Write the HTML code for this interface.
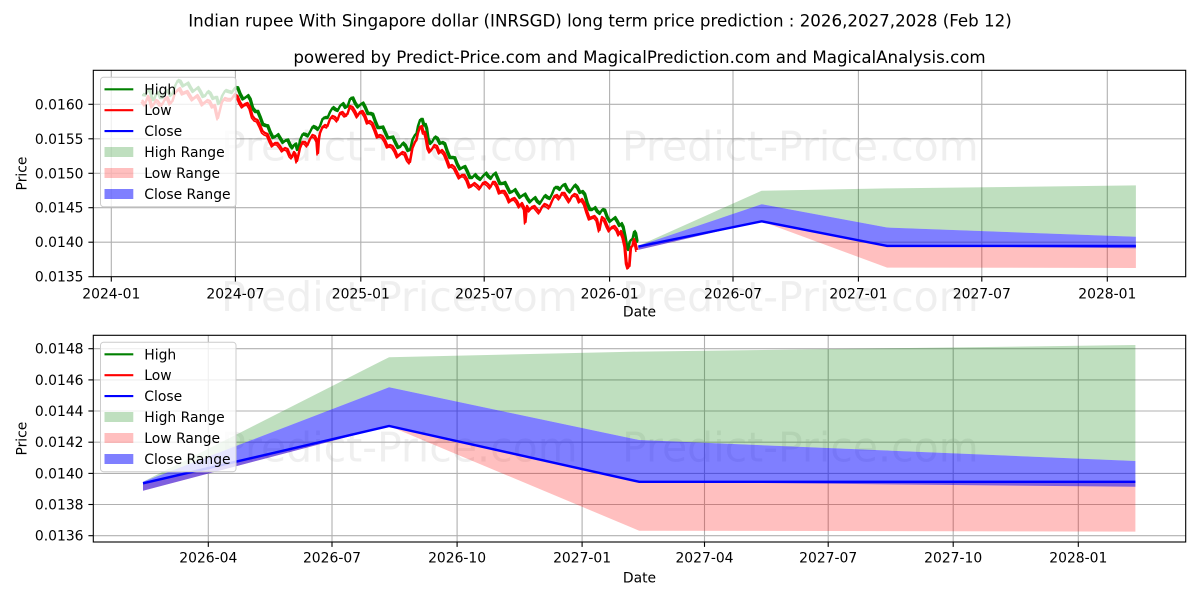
<!DOCTYPE html>
<html><head><meta charset="utf-8"><style>
html,body{margin:0;padding:0;background:#fff;}
svg{display:block;font-family:"DejaVu Sans","Liberation Sans",sans-serif;}
</style></head><body>
<svg width="1200" height="600" viewBox="0 0 1200 600" xmlns="http://www.w3.org/2000/svg">
<defs>
<polyline id="hp" fill="none" stroke-linejoin="round" points="142,95 145,95.5 148,90 150,92 152,100 154,100 156,94 158,93 160,98 162.5,98 165,92 167.5,91 170,96 172.5,94 175,86 177.5,81 180,82 182.5,86.5 185,85 187.5,83.5 190,88 192.5,92 195,90 197.5,88 200,92 202.5,97 205,96 207.5,92 210,94 212.5,99 215,98 216.5,98 218,104 220,103 222,96 225,91 228,92 231.5,93 235,88 237.5,88.5 240,95 242.5,99.5 245,98 247.5,96 250,100 252.5,109 255,112 257.5,112 260,118 262.5,125 265,126 267.5,126.5 270,133 272.5,138 275,137 277.5,135 280,139 282.5,143 285,141 287.5,140.5 290,146 292,148.5 294,145 295.5,144.5 297,150 298.5,148 300,140 302.5,134.5 305,135 307.5,136.5 310,132 312.5,127 315,128 317.5,130 320,126 322.5,119 325,118 327.5,118 330,112 332.5,108 335,110 337.5,111 340,106 342.5,104 345,108 347.5,106.5 350,99 352.5,98.5 355,104 357.5,107.5 360,105 362.5,103.5 365,108 367.5,114 370,114 372.5,115 375,122 377.5,128 380,128 382.5,127.5 385,133 387.5,138.5 390,138 392.5,137.5 395,143 397.5,148 400,147 402.5,143.5 405,146 407.5,151 410,150 412.5,139.5 415,135 416.5,133.5 418,126 420,120 422,120 423.5,125.5 425,125 426.5,129.5 428,140 430,144 432,142 434.5,137.5 437,139 439.5,144 442,143 444.5,144.5 447,152 449.5,158 452,158 454.5,158.5 457,165 459.5,169.5 462,168 464.5,167 467,172 469.5,178 472,178 474.5,175 477,178 480,180 483,176 485.5,173.5 488,177 490.5,179 493,175 495,173.5 497,178 499.5,184 502,184 504.5,183 507,188 509.5,193 512,192 514.5,190 517,194 519.5,198 522,196 524.5,194.5 527,199 529.5,202.5 532,200 534.5,198 537,202 539.5,204 542,200 544.5,196 547,198 549.5,199 552,194 554.5,188 557,188 559.5,190 562,186 564.5,185 567,190 569.5,192.5 572,189 574.5,185.5 577,188 579.5,193 582,192 584.5,195 587,204 589.5,210 592,210 594.5,208 597,212 599.5,214 602,210 604.5,211 607,218 609.5,222 612,220 614.5,218 617,222 619,226 621,224 623,228 625,238 626.5,247 628,250 629.5,242 631,240 632.5,239 634,232 635.5,234.5 637,243"/>
<polyline id="lp" fill="none" stroke-linejoin="round" points="142,100 145,104 148,96 150,99 152,106 154,104 156,100 158,101 160,104 162.5,104 165,99 167.5,97 170,103 172.5,101 175,93 177.5,90 180,88 182.5,93 185,92 187.5,91 190,95 192.5,99 195,97 197.5,95 200,99 202.5,104 205,102 207.5,100 210,101 212.5,106 215,105 216.5,112 218,118 220,110 222,102 225,98 228,99 231.5,99 235,94 237.5,96 240,102 242.5,106 245,104 247.5,103 250,107 252.5,116 255,119 257.5,120 260,125 262.5,131 265,133 267.5,134 270,140 272.5,145 275,143 277.5,143 280,146 282.5,150 285,148 287.5,149 290,155 292,157 294,152 295.5,154 297,161 298.5,155 300,148 302.5,142 305,142 307.5,145 310,139 312.5,135 315,136 317,140 318,153 319,139 320,133 322.5,127 325,125 327.5,126 330,119 332.5,116 335,117 337.5,120 340,113 342.5,112 345,115 347.5,114 350,106 352.5,107 355,111 357.5,116 360,112 362.5,111 365,115 367.5,122 370,121 372.5,123 375,129 377.5,136 380,135 382.5,136 385,140 387.5,146 390,145 392.5,146 395,150 397.5,156 400,154 402.5,152 405,153 407.5,159 410,162 412.5,148 415,142 416.5,140 418,133 420,127 422,126 423.5,132 425,132 426.5,138 428,147 430,151 432,149 434.5,145 437,146 439.5,152 442,150 444.5,153 447,159 449.5,166 452,165 454.5,167 457,172 459.5,177 462,175 464.5,175 467,179 469.5,186 472,185 474.5,183 477,185 480,188 483,183 485.5,182 488,184 490.5,187 493,182 495,182 497,185 499.5,192 502,191 504.5,191 507,195 509.5,201 512,199 514.5,198 517,201 519.5,206 522,203 524.5,208 525.5,222 527,206 529.5,210 532,207 534.5,206 537,209 539.5,212 542,207 544.5,204 547,205 549.5,207 552,201 554.5,196 557,195 559.5,198 562,193 564.5,193 567,197 569.5,201 572,196 574.5,194 577,195 579.5,201 582,199 584.5,203 587,211 589.5,218 592,217 594.5,216 597,219 599.5,230 602,217 604.5,219 607,225 609.5,230 612,227 614.5,226 617,229 619,234 621,231 623,236 625,245 626.5,262 628,267 629.5,266 631,247 632.5,246 634,239 635.5,243 637,250"/>
</defs>
<rect width="1200" height="600" fill="#fff"/>
<text x="600" y="26.5" font-size="16.67" text-anchor="middle">Indian rupee With Singapore dollar (INRSGD) long term price prediction : 2026,2027,2028 (Feb 12)</text>
<text x="639.5" y="63" font-size="16.67" text-anchor="middle">powered by Predict-Price.com and MagicalPrediction.com and MagicalAnalysis.com</text>

<!-- TOP AXES -->
<g stroke="#b0b0b0" stroke-width="1.1">
<line x1="93.3" x2="1185.7" y1="104.3" y2="104.3"/>
<line x1="93.3" x2="1185.7" y1="138.8" y2="138.8"/>
<line x1="93.3" x2="1185.7" y1="173.3" y2="173.3"/>
<line x1="93.3" x2="1185.7" y1="207.7" y2="207.7"/>
<line x1="93.3" x2="1185.7" y1="242.2" y2="242.2"/>
<line x1="111.3" x2="111.3" y1="70.3" y2="276.7"/>
<line x1="235.4" x2="235.4" y1="70.3" y2="276.7"/>
<line x1="360.8" x2="360.8" y1="70.3" y2="276.7"/>
<line x1="484.2" x2="484.2" y1="70.3" y2="276.7"/>
<line x1="609.6" x2="609.6" y1="70.3" y2="276.7"/>
<line x1="733.0" x2="733.0" y1="70.3" y2="276.7"/>
<line x1="858.4" x2="858.4" y1="70.3" y2="276.7"/>
<line x1="981.8" x2="981.8" y1="70.3" y2="276.7"/>
<line x1="1107.3" x2="1107.3" y1="70.3" y2="276.7"/>
</g>
<g fill="#808080" fill-opacity="0.13" font-size="41">
<text x="221" y="160.5">Predict-Price.com</text>
<text x="622" y="160.5">Predict-Price.com</text>
<text x="221" y="311">Predict-Price.com</text>
<text x="622" y="311">Predict-Price.com</text>
<text x="221" y="461.5">Predict-Price.com</text>
<text x="622" y="461.5">Predict-Price.com</text>
</g>
<polygon fill="#008000" fill-opacity="0.25" points="638.3,245.9 761.6,190.8 887.1,188.4 1135.9,185.4 1135.9,236.8 887.1,227.5 761.6,204.2 638.3,245.9"/>
<polygon fill="#ff0000" fill-opacity="0.25" points="638.3,246.6 761.6,221.3 887.1,245.9 1135.9,245.9 1135.9,268.0 887.1,267.6 761.6,221.3 638.3,249.9"/>
<polygon fill="#0000ff" fill-opacity="0.5" points="638.3,245.9 761.6,204.2 887.1,227.5 1135.9,236.8 1135.9,248.2 887.1,245.9 761.6,221.3 638.3,249.9"/>
<use href="#hp" stroke="#008000" stroke-width="2.4"/>
<use href="#hp" stroke="#008000" stroke-width="1.5" transform="translate(1,-1.5)"/>
<use href="#lp" stroke="#ff0000" stroke-width="2.4"/>
<use href="#lp" stroke="#ff0000" stroke-width="1.5" transform="translate(-1,2)"/>
<polyline fill="none" stroke="#0000ff" stroke-width="2.4" points="638.3,246.6 761.6,221.3 887.1,245.9 1135.9,245.9"/>
<rect x="93.3" y="70.3" width="1092.4" height="206.4" fill="none" stroke="#000" stroke-width="1.1"/>
<g stroke="#000" stroke-width="1.1">
<line x1="88.4" x2="93.3" y1="104.3" y2="104.3"/>
<line x1="88.4" x2="93.3" y1="138.8" y2="138.8"/>
<line x1="88.4" x2="93.3" y1="173.3" y2="173.3"/>
<line x1="88.4" x2="93.3" y1="207.7" y2="207.7"/>
<line x1="88.4" x2="93.3" y1="242.2" y2="242.2"/>
<line x1="88.4" x2="93.3" y1="276.7" y2="276.7"/>
<line x1="111.3" x2="111.3" y1="276.7" y2="281.6"/>
<line x1="235.4" x2="235.4" y1="276.7" y2="281.6"/>
<line x1="360.8" x2="360.8" y1="276.7" y2="281.6"/>
<line x1="484.2" x2="484.2" y1="276.7" y2="281.6"/>
<line x1="609.6" x2="609.6" y1="276.7" y2="281.6"/>
<line x1="733.0" x2="733.0" y1="276.7" y2="281.6"/>
<line x1="858.4" x2="858.4" y1="276.7" y2="281.6"/>
<line x1="981.8" x2="981.8" y1="276.7" y2="281.6"/>
<line x1="1107.3" x2="1107.3" y1="276.7" y2="281.6"/>
</g>
<g font-size="13.9" text-anchor="end">
<text x="83.5" y="109.3">0.0160</text>
<text x="83.5" y="143.8">0.0155</text>
<text x="83.5" y="178.3">0.0150</text>
<text x="83.5" y="212.7">0.0145</text>
<text x="83.5" y="247.2">0.0140</text>
<text x="83.5" y="281.7">0.0135</text>
</g>
<g font-size="13.9" text-anchor="middle">
<text x="111.3" y="298.3">2024-01</text>
<text x="235.4" y="298.3">2024-07</text>
<text x="360.8" y="298.3">2025-01</text>
<text x="484.2" y="298.3">2025-07</text>
<text x="609.6" y="298.3">2026-01</text>
<text x="733.0" y="298.3">2026-07</text>
<text x="858.4" y="298.3">2027-01</text>
<text x="981.8" y="298.3">2027-07</text>
<text x="1107.3" y="298.3">2028-01</text>
<text x="639.5" y="316.7">Date</text>
<text transform="translate(26.5,173.5) rotate(-90)">Price</text>
</g>
<!-- top legend -->
<rect x="100.5" y="77.3" width="135.5" height="129.4" rx="3" fill="#fff" fill-opacity="0.8" stroke="#cccccc" stroke-width="1"/>
<g stroke-width="2.1">
<line x1="104.5" x2="133.3" y1="89.3" y2="89.3" stroke="#008000"/>
<line x1="104.5" x2="133.3" y1="110.2" y2="110.2" stroke="#ff0000"/>
<line x1="104.5" x2="133.3" y1="131.1" y2="131.1" stroke="#0000ff"/>
</g>
<rect x="104.5" y="147" width="28.8" height="10" fill="#008000" fill-opacity="0.25"/>
<rect x="104.5" y="168" width="28.8" height="10" fill="#ff0000" fill-opacity="0.25"/>
<rect x="104.5" y="189" width="28.8" height="10" fill="#0000ff" fill-opacity="0.5"/>
<g font-size="13.9">
<text x="144.3" y="94.3">High</text>
<text x="144.3" y="115.2">Low</text>
<text x="144.3" y="136.1">Close</text>
<text x="144.3" y="157">High Range</text>
<text x="144.3" y="177.9">Low Range</text>
<text x="144.3" y="198.8">Close Range</text>
</g>

<!-- BOTTOM AXES -->
<g stroke="#b0b0b0" stroke-width="1.1">
<line x1="93.3" x2="1185.7" y1="348.7" y2="348.7"/>
<line x1="93.3" x2="1185.7" y1="379.9" y2="379.9"/>
<line x1="93.3" x2="1185.7" y1="411.0" y2="411.0"/>
<line x1="93.3" x2="1185.7" y1="442.2" y2="442.2"/>
<line x1="93.3" x2="1185.7" y1="473.4" y2="473.4"/>
<line x1="93.3" x2="1185.7" y1="504.5" y2="504.5"/>
<line x1="93.3" x2="1185.7" y1="535.7" y2="535.7"/>
<line x1="208.3" x2="208.3" y1="335.3" y2="542"/>
<line x1="332.0" x2="332.0" y1="335.3" y2="542"/>
<line x1="457.1" x2="457.1" y1="335.3" y2="542"/>
<line x1="582.1" x2="582.1" y1="335.3" y2="542"/>
<line x1="704.5" x2="704.5" y1="335.3" y2="542"/>
<line x1="828.2" x2="828.2" y1="335.3" y2="542"/>
<line x1="953.2" x2="953.2" y1="335.3" y2="542"/>
<line x1="1078.3" x2="1078.3" y1="335.3" y2="542"/>
</g>
<polygon fill="#008000" fill-opacity="0.25" points="143,481.8 389.1,357.2 639.2,351.6 1135.4,345.0 1135.4,461.0 639.2,440.0 389.1,387.3 143,481.8"/>
<polygon fill="#ff0000" fill-opacity="0.25" points="143,483.3 389.1,426.0 639.2,481.8 1135.4,481.8 1135.4,531.6 639.2,530.7 389.1,426.0 143,490.7"/>
<polygon fill="#0000ff" fill-opacity="0.5" points="143,481.8 389.1,387.3 639.2,440.0 1135.4,461.0 1135.4,486.8 639.2,481.8 389.1,426.0 143,490.7"/>
<polyline fill="none" stroke="#0000ff" stroke-width="2.4" points="143,483.3 389.1,426.0 639.2,481.8 1135.4,481.8"/>
<rect x="93.3" y="335.3" width="1092.4" height="206.7" fill="none" stroke="#000" stroke-width="1.1"/>
<g stroke="#000" stroke-width="1.1">
<line x1="88.4" x2="93.3" y1="348.7" y2="348.7"/>
<line x1="88.4" x2="93.3" y1="379.9" y2="379.9"/>
<line x1="88.4" x2="93.3" y1="411.0" y2="411.0"/>
<line x1="88.4" x2="93.3" y1="442.2" y2="442.2"/>
<line x1="88.4" x2="93.3" y1="473.4" y2="473.4"/>
<line x1="88.4" x2="93.3" y1="504.5" y2="504.5"/>
<line x1="88.4" x2="93.3" y1="535.7" y2="535.7"/>
<line x1="208.3" x2="208.3" y1="542" y2="546.9"/>
<line x1="332.0" x2="332.0" y1="542" y2="546.9"/>
<line x1="457.1" x2="457.1" y1="542" y2="546.9"/>
<line x1="582.1" x2="582.1" y1="542" y2="546.9"/>
<line x1="704.5" x2="704.5" y1="542" y2="546.9"/>
<line x1="828.2" x2="828.2" y1="542" y2="546.9"/>
<line x1="953.2" x2="953.2" y1="542" y2="546.9"/>
<line x1="1078.3" x2="1078.3" y1="542" y2="546.9"/>
</g>
<g font-size="13.9" text-anchor="end">
<text x="83.5" y="353.7">0.0148</text>
<text x="83.5" y="384.9">0.0146</text>
<text x="83.5" y="416.0">0.0144</text>
<text x="83.5" y="447.2">0.0142</text>
<text x="83.5" y="478.4">0.0140</text>
<text x="83.5" y="509.5">0.0138</text>
<text x="83.5" y="540.7">0.0136</text>
</g>
<g font-size="13.9" text-anchor="middle">
<text x="208.3" y="562.3">2026-04</text>
<text x="332.0" y="562.3">2026-07</text>
<text x="457.1" y="562.3">2026-10</text>
<text x="582.1" y="562.3">2027-01</text>
<text x="704.5" y="562.3">2027-04</text>
<text x="828.2" y="562.3">2027-07</text>
<text x="953.2" y="562.3">2027-10</text>
<text x="1078.3" y="562.3">2028-01</text>
<text x="639.5" y="582.3">Date</text>
<text transform="translate(26.5,438.6) rotate(-90)">Price</text>
</g>
<!-- bottom legend -->
<rect x="100.5" y="342.3" width="135.5" height="129.4" rx="3" fill="#fff" fill-opacity="0.8" stroke="#cccccc" stroke-width="1"/>
<g stroke-width="2.1">
<line x1="104.5" x2="133.3" y1="354.3" y2="354.3" stroke="#008000"/>
<line x1="104.5" x2="133.3" y1="375.2" y2="375.2" stroke="#ff0000"/>
<line x1="104.5" x2="133.3" y1="396.1" y2="396.1" stroke="#0000ff"/>
</g>
<rect x="104.5" y="412" width="28.8" height="10" fill="#008000" fill-opacity="0.25"/>
<rect x="104.5" y="433" width="28.8" height="10" fill="#ff0000" fill-opacity="0.25"/>
<rect x="104.5" y="454" width="28.8" height="10" fill="#0000ff" fill-opacity="0.5"/>
<g font-size="13.9">
<text x="144.3" y="359.3">High</text>
<text x="144.3" y="380.2">Low</text>
<text x="144.3" y="401.1">Close</text>
<text x="144.3" y="422">High Range</text>
<text x="144.3" y="442.9">Low Range</text>
<text x="144.3" y="463.8">Close Range</text>
</g>
</svg>
</body></html>
